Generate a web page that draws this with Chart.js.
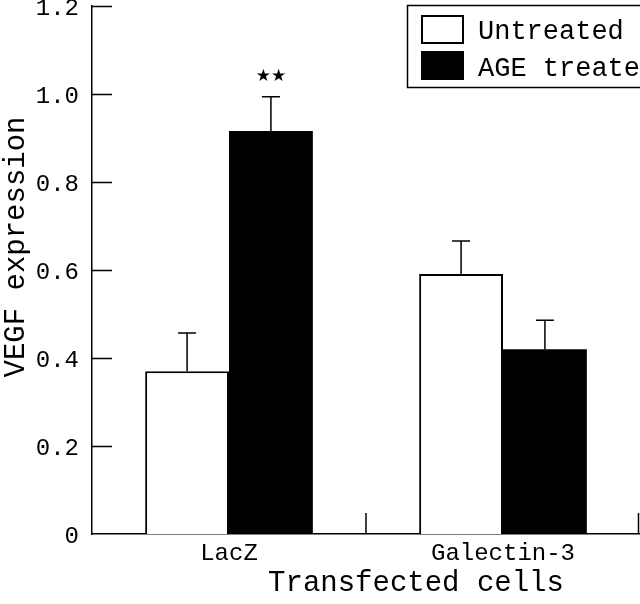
<!DOCTYPE html>
<html>
<head>
<meta charset="utf-8">
<script src="https://cdn.jsdelivr.net/npm/chart.js@4"></script>
<style>
  html, body { margin: 0; padding: 0; background: #fff; overflow: hidden; }
  #wrap { width: 640px; height: 604px; }
</style>
</head>
<body>
<div id="wrap"><canvas id="chart"></canvas></div>
<script>
// data
const cells = ['LacZ', 'Galectin-3'];
const seriesNames = ['Untreated', 'AGE treated'];
const untreated = [0.37, 0.591];
const untreatedErr = [0.087, 0.075];
const ageTreated = [0.916, 0.42];
const ageTreatedErr = [0.078, 0.066];
const yTicks = [0, 0.2, 0.4, 0.6, 0.8, 1.0, 1.2];

const FONT = "'Liberation Mono', 'DejaVu Sans Mono', monospace";

// inside ticks, error bars, stars, legend and axis titles
const extras = {
  id: 'extras',
  afterDraw(chart) {
    const ctx = chart.ctx;
    const x = chart.scales.x;
    const y = chart.scales.y;
    const area = chart.chartArea;
    ctx.save();
    ctx.strokeStyle = '#000';
    ctx.fillStyle = '#000';

    // y ticks, pointing into the plot
    ctx.lineWidth = 1.5;
    yTicks.forEach(v => {
      const py = Math.round(y.getPixelForValue(v)) + 0.5;
      if (v === 0) return;
      ctx.beginPath();
      ctx.moveTo(area.left, py);
      ctx.lineTo(area.left + 20, py);
      ctx.stroke();
    });

    // x ticks at category boundaries, pointing up
    const bounds = [];
    for (let i = 0; i < cells.length; i++) {
      if (i < cells.length - 1) bounds.push((x.getPixelForValue(i) + x.getPixelForValue(i + 1)) / 2);
      else bounds.push(area.right - 1.5);
    }
    bounds.forEach(bx => {
      ctx.beginPath();
      ctx.moveTo(bx, area.bottom);
      ctx.lineTo(bx, area.bottom - 21);
      ctx.stroke();
    });

    // error bars (upper only)
    const errs = [untreatedErr, ageTreatedErr];
    const vals = [untreated, ageTreated];
    ctx.lineWidth = 1.5;
    chart.data.datasets.forEach((ds, di) => {
      const meta = chart.getDatasetMeta(di);
      meta.data.forEach((bar, i) => {
        const top = y.getPixelForValue(vals[di][i] + errs[di][i]);
        const base = y.getPixelForValue(vals[di][i]);
        ctx.beginPath();
        ctx.moveTo(bar.x, base);
        ctx.lineTo(bar.x, top);
        ctx.moveTo(bar.x - 9, top);
        ctx.lineTo(bar.x + 9, top);
        ctx.stroke();
      });
    });

    // significance stars over LacZ AGE treated
    const starBar = chart.getDatasetMeta(1).data[0];
    const starY = y.getPixelForValue(ageTreated[0] + ageTreatedErr[0]) - 20;
    ctx.font = "17px 'DejaVu Sans'";
    ctx.textAlign = 'center';
    ctx.textBaseline = 'middle';
    ctx.fillText('\u2605\u2605', starBar.x, starY);

    // legend box
    ctx.lineWidth = 1.5;
    ctx.strokeRect(407.5, 5.5, 260, 82);
    ctx.lineWidth = 2;
    ctx.fillStyle = '#fff';
    ctx.fillRect(422, 16, 41, 27);
    ctx.strokeRect(422, 16, 41, 27);
    ctx.fillStyle = '#000';
    ctx.fillRect(421, 51, 43, 29);
    ctx.font = '27px ' + FONT;
    ctx.textAlign = 'left';
    ctx.textBaseline = 'alphabetic';
    ctx.fillText(seriesNames[0], 478, 39);
    ctx.fillText(seriesNames[1], 478, 76);

    // axis titles
    ctx.font = '29px ' + FONT;
    ctx.textAlign = 'center';
    ctx.fillText('Transfected cells', 416, 591);
    ctx.save();
    ctx.translate(24, 247);
    ctx.rotate(-Math.PI / 2);
    ctx.font = '29px ' + FONT;
    ctx.fillText('VEGF expression', 0, 0);
    ctx.restore();

    ctx.restore();
  }
};

const ctx = document.getElementById('chart');
const myChart = new Chart(ctx, {
  type: 'bar',
  data: {
    labels: cells,
    datasets: [
      {
        label: seriesNames[0],
        data: untreated,
        backgroundColor: '#fff',
        borderColor: '#000',
        borderWidth: 2,
        borderSkipped: 'bottom'
      },
      {
        label: seriesNames[1],
        data: ageTreated,
        backgroundColor: '#000',
        borderColor: '#000',
        borderWidth: 0
      }
    ]
  },
  plugins: [extras],
  options: {
    responsive: true,
    maintainAspectRatio: false,
    animation: false,
    events: [],
    layout: { autoPadding: false, padding: { top: 6, left: 0, right: 0, bottom: 0 } },
    datasets: { bar: { categoryPercentage: 0.612, barPercentage: 1.0 } },
    plugins: { legend: { display: false }, tooltip: { enabled: false } },
    scales: {
      x: {
        afterFit: s => { s.height = 70; s.paddingLeft = 0; s.paddingRight = 0; },
        grid: { display: false },
        border: { display: true, color: '#000', width: 1.5 },
        ticks: { color: '#000', font: { family: FONT, size: 24 }, padding: -3 }
      },
      y: {
        min: 0,
        max: 1.2,
        afterFit: s => { s.width = 92; s.paddingTop = 0; s.paddingBottom = 0; },
        afterBuildTicks: s => { s.ticks = yTicks.map(v => ({ value: v })); },
        grid: { display: false },
        border: { display: true, color: '#000', width: 1.5 },
        ticks: {
          color: '#000',
          font: { family: FONT, size: 24 },
          padding: 5,
          labelOffset: 3,
          callback: v => (v === 0 ? '0' : v.toFixed(1))
        }
      }
    }
  }
});
</script>
</body>
</html>
